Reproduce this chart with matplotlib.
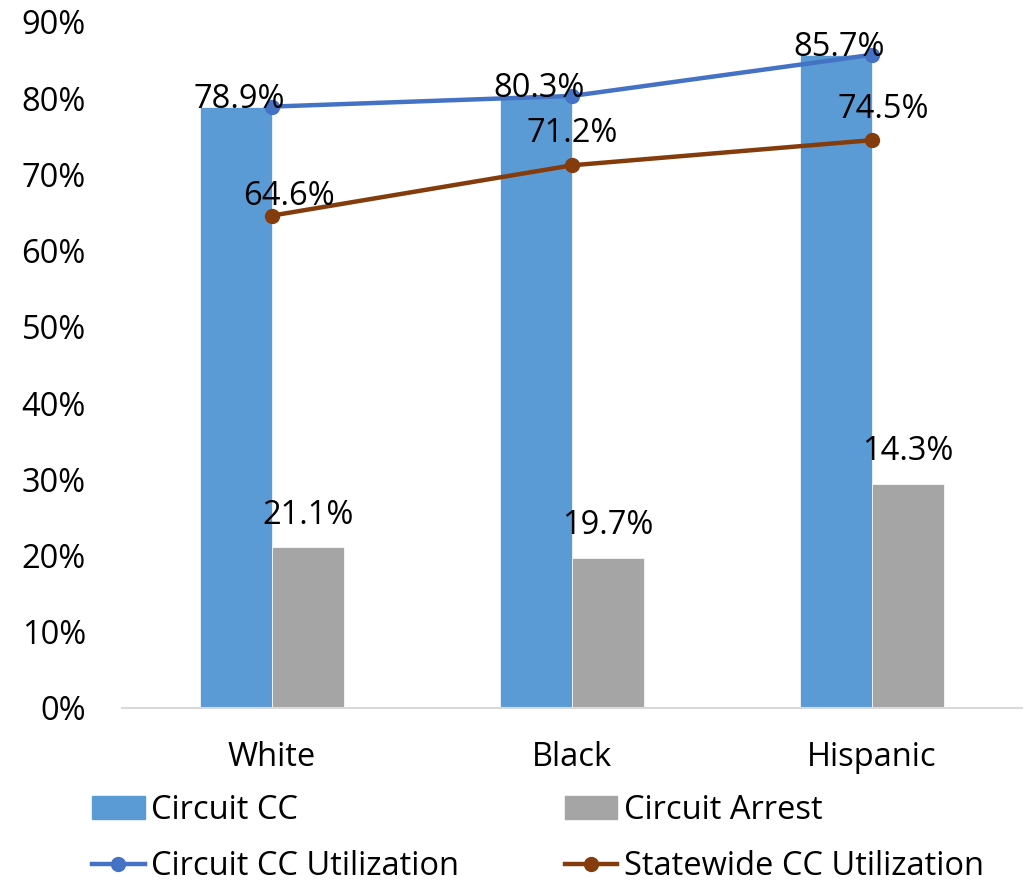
import matplotlib
matplotlib.use("Agg")
import matplotlib.pyplot as plt
import numpy as np
from matplotlib.patches import Patch
from matplotlib.lines import Line2D

categories = ["White", "Black", "Hispanic"]
circuit_cc = [78.9, 80.3, 85.7]
circuit_arrest = [21.1, 19.7, 29.4]
arrest_labels = ["21.1%", "19.7%", "14.3%"]
circuit_cc_util = [78.9, 80.3, 85.7]
statewide_cc_util = [64.6, 71.2, 74.5]
yticks = [0, 10, 20, 30, 40, 50, 60, 70, 80, 90]

plt.rcParams['font.family'] = ['Open Sans', 'DejaVu Sans']
FS = 23.5

fig = plt.figure(figsize=(10.25, 8.85), dpi=100)
ax = fig.add_axes([122/1025, 177/885, 900/1025, 686/885])

x = np.arange(len(categories))
w = 0.24
c_blue = "#5B9BD5"
c_gray = "#A5A5A5"
c_line1 = "#4472C4"
c_line2 = "#843C0C"

ax.bar(x - w/2, circuit_cc, width=w, color=c_blue, edgecolor="white", linewidth=0.5, zorder=2)
ax.bar(x + w/2, circuit_arrest, width=w, color=c_gray, edgecolor="white", linewidth=0.5, zorder=2)
ax.plot(x, circuit_cc_util, color=c_line1, lw=3.2, marker="o", ms=10, zorder=3)
ax.plot(x, statewide_cc_util, color=c_line2, lw=3.2, marker="o", ms=10, zorder=3)

for xi, v in zip(x, circuit_cc):
    ax.annotate(f"{v:.1f}%", (xi - w/2, v), xytext=(2, 5), textcoords="offset points",
                ha="center", va="center", fontsize=FS, zorder=4)
for xi, v, lab in zip(x, circuit_arrest, arrest_labels):
    ax.annotate(lab, (xi + w/2, v), xytext=(0, 23), textcoords="offset points",
                ha="center", va="center", fontsize=FS, zorder=4)
sw_off = [(12, 14), (0, 23), (8, 22)]
for xi, v, off in zip(x, statewide_cc_util, sw_off):
    ax.annotate(f"{v:.1f}%", (xi, v), xytext=off, textcoords="offset points",
                ha="center", va="center", fontsize=FS, zorder=4)

ax.set_xlim(-0.5, 2.5)
ax.set_ylim(0, 90)
ax.set_yticks(yticks)
ax.set_yticklabels([f"{t}%" for t in yticks], fontsize=FS)
ax.set_xticks(x)
ax.set_xticklabels(categories, fontsize=FS)
ax.tick_params(axis="both", length=0)
ax.tick_params(axis="y", pad=26)
ax.tick_params(axis="x", pad=24)
for s in ["top", "right", "left"]:
    ax.spines[s].set_visible(False)
ax.spines["bottom"].set_color("#D9D9D9")
ax.spines["bottom"].set_linewidth(1.5)

handles = [
    Patch(color=c_blue, label="Circuit CC"),
    Line2D([0], [0], color=c_line1, lw=3.2, marker="o", ms=10, label="Circuit CC Utilization"),
    Patch(color=c_gray, label="Circuit Arrest"),
    Line2D([0], [0], color=c_line2, lw=3.2, marker="o", ms=10, label="Statewide CC Utilization"),
]
fig.legend(handles=handles, ncol=2, loc="center left", bbox_to_anchor=(63/1025, (885-838.5)/885),
           frameon=False, fontsize=FS, handlelength=1.6, handleheight=0.7,
           handletextpad=0.2, columnspacing=3.25, labelspacing=0.72)

fig.savefig("out.png", dpi=100)
